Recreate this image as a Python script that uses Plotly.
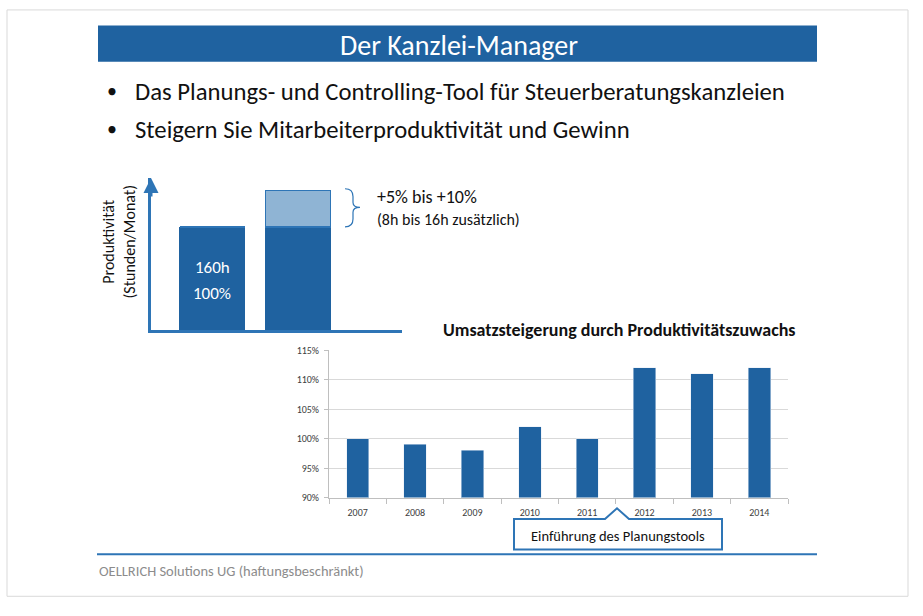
import plotly.graph_objects as go

# left chart: monthly hours (illustrative)
prod_cats = ["heute", "mit Tool"]
prod_base = [160, 160]
prod_extra = [0, 57]
prod_labels = ["160h", "100%"]

# bottom chart: revenue index per year
years = ["2007", "2008", "2009", "2010", "2011", "2012", "2013", "2014"]
umsatz = [1.00, 0.99, 0.98, 1.02, 1.00, 1.12, 1.11, 1.12]

W, H = 923, 616
BLUE = "#1F62A0"
LIGHT = "#8FB4D4"
AXBLUE = "#2E75B6"
FONT = "Carlito, Lato, Open Sans, sans-serif"


def px(x):
    return x / W


def py(y):
    return 1 - y / H


fig = go.Figure()

fig.add_trace(go.Bar(
    x=prod_cats, y=prod_base, marker=dict(color=BLUE, line=dict(color=BLUE, width=1)),
    width=0.756, xaxis="x", yaxis="y", showlegend=False,
))
fig.add_trace(go.Bar(
    x=prod_cats, y=prod_extra, marker=dict(color=LIGHT, line=dict(color=AXBLUE, width=1.5)),
    width=0.756, xaxis="x", yaxis="y", showlegend=False,
))
fig.add_trace(go.Bar(
    x=years, y=umsatz, marker_color=BLUE, width=0.39,
    xaxis="x2", yaxis="y2", showlegend=False,
))

fig.update_layout(
    width=W, height=H, margin=dict(l=0, r=0, t=0, b=0),
    paper_bgcolor="white", plot_bgcolor="white",
    barmode="stack", font=dict(family=FONT),
    xaxis=dict(domain=[px(151), px(402)], range=[-0.71, 2.21], showticklabels=False,
               showline=True, linecolor=AXBLUE, linewidth=3, showgrid=False, zeroline=False),
    yaxis=dict(domain=[py(331), py(175)], range=[0, 236], showticklabels=False,
               showline=True, linecolor=AXBLUE, linewidth=3, showgrid=False, zeroline=False),
    xaxis2=dict(domain=[px(329), px(788)], anchor="y2", showline=True, linecolor="#BFBFBF",
                ticks="outside", tickson="boundaries", ticklen=5, tickcolor="#BFBFBF",
                ticklabelstandoff=5,
                tickfont=dict(size=10, color="#404040", family=FONT), showgrid=False),
    yaxis2=dict(domain=[py(502), py(351)], anchor="x2", range=[0.90, 1.15], dtick=0.05,
                tickformat=".0%", showline=True, linecolor="#BFBFBF", ticks="outside",
                ticklen=4, tickcolor="#BFBFBF", gridcolor="#D9D9D9", zeroline=False,
                ticklabelstandoff=3,
                tickfont=dict(size=10, color="#404040", family=FONT)),
)

shapes = [
    # slide border
    dict(type="rect", xref="paper", yref="paper", x0=px(7), x1=px(908), y0=py(603), y1=py(3),
         line=dict(color="#D9D9D9", width=1), layer="below"),
    # header bar
    dict(type="rect", xref="paper", yref="paper", x0=px(98), x1=px(817), y0=py(56), y1=py(19),
         fillcolor="#1F62A0", line=dict(width=0)),
    # footer line
    dict(type="line", xref="paper", yref="paper", x0=px(97), x1=px(817), y0=py(560), y1=py(560),
         line=dict(color=AXBLUE, width=2)),
    # brace
    dict(type="path", xref="paper", yref="paper",
         path=f"M {px(345)} {py(186)} Q {px(353)} {py(186)} {px(353)} {py(194)} "
              f"L {px(353)} {py(200)} Q {px(353)} {py(205)} {px(360)} {py(205)} "
              f"Q {px(353)} {py(205)} {px(353)} {py(210)} L {px(353)} {py(217)} "
              f"Q {px(353)} {py(225)} {px(345)} {py(225)}",
         line=dict(color=AXBLUE, width=1.2)),
    # callout box with pointer
    dict(type="path", xref="paper", yref="paper", layer="below",
         path=f"M {px(514)} {py(524)} L {px(605)} {py(524)} L {px(617)} {py(513)} "
              f"L {px(629)} {py(524)} L {px(722)} {py(524)} L {px(722)} {py(555)} "
              f"L {px(514)} {py(555)} Z",
         fillcolor="white", line=dict(color=AXBLUE, width=2)),
]
fig.update_layout(shapes=shapes)

ann = [
    dict(x=px(459), y=py(39), text="Der Kanzlei-Manager",
         font=dict(size=28, color="white")),
    dict(x=px(112), y=py(86), text="•", font=dict(size=20, color="#111111")),
    dict(x=px(133), y=py(86), text="Das Planungs- und Controlling-Tool für Steuerberatungskanzleien",
         xanchor="left", font=dict(size=24.7, color="#111111")),
    dict(x=px(112), y=py(125), text="•", font=dict(size=20, color="#111111")),
    dict(x=px(133), y=py(125), text="Steigern Sie Mitarbeiterproduktivität und Gewinn",
         xanchor="left", font=dict(size=24.7, color="#111111")),
    dict(x=px(119), y=py(240), text="Produktivität<br>(Stunden/Monat)", textangle=-90,
         font=dict(size=16, color="#111111")),
    dict(x=prod_cats[0], y=97, xref="x", yref="y", text=prod_labels[0],
         font=dict(size=17, color="white")),
    dict(x=prod_cats[0], y=58, xref="x", yref="y", text=prod_labels[1],
         font=dict(size=17, color="white")),
    dict(x=px(375), y=py(194), text="+5% bis +10%", xanchor="left",
         font=dict(size=18, color="#111111")),
    dict(x=px(375), y=py(217), text="(8h bis 16h zusätzlich)", xanchor="left",
         font=dict(size=16, color="#111111")),
    dict(x=px(798), y=py(330), text="<b>Umsatzsteigerung durch Produktivitätszuwachs</b>",
         xanchor="right", font=dict(size=18, color="#111111")),
    dict(x=px(618), y=py(541), text="Einführung des Planungstools",
         font=dict(size=14.5, color="#111111")),
    dict(x=px(97), y=py(577), text="OELLRICH Solutions UG (haftungsbeschränkt)", xanchor="left",
         font=dict(size=14.5, color="#8C8C8C")),
    # arrow head on y axis of left chart
    dict(x=-0.71, y=236, xref="x", yref="y", ax=-0.71, ay=205, axref="x", ayref="y",
         text="", showarrow=True, arrowhead=2, arrowsize=1, arrowwidth=3, arrowcolor=AXBLUE),
]
for a in ann:
    a.setdefault("xref", "paper")
    a.setdefault("yref", "paper")
    a.setdefault("showarrow", False)
    a.setdefault("xanchor", "center")
    a.setdefault("yanchor", "middle")
    fig.add_annotation(**a)

fig.write_html("out.html", config={"displayModeBar": False},
               post_script="document.body.style.margin='0';")
